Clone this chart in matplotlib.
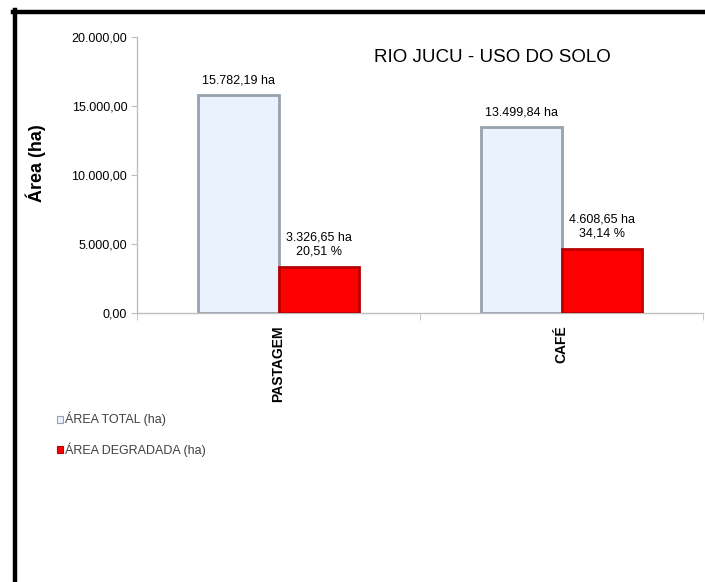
import matplotlib
matplotlib.use("Agg")
import matplotlib.pyplot as plt
from matplotlib.ticker import FuncFormatter, FixedLocator
from matplotlib.lines import Line2D
import numpy as np

categories = ["PASTAGEM", "CAFÉ"]
area_total = [15782.19, 13499.84]
area_degradada = [3326.65, 4608.65]
pct_degradada = [20.51, 34.14]
series_names = ["ÁREA TOTAL (ha)", "ÁREA DEGRADADA (ha)"]
y_ticks = [0, 5000, 10000, 15000, 20000]

plt.rcParams['font.family'] = ['Liberation Sans', 'DejaVu Sans']


def br(v, dec=2):
    s = f"{v:,.{dec}f}"
    return s.replace(",", "X").replace(".", ",").replace("X", ".")


fig = plt.figure(figsize=(7.05, 5.82), dpi=100)
ax = fig.add_axes([137/705, (582-313)/582, 566/705, 276/582])

x = np.arange(len(categories))
w = 0.285
b1 = ax.bar(x - w/2, area_total, w, color="#EAF3FD", edgecolor="#98A2AD",
            linewidth=2.0, label=series_names[0], zorder=3)
b2 = ax.bar(x + w/2, area_degradada, w, color="#FF0000", edgecolor="#B80000",
            linewidth=2.0, label=series_names[1], zorder=3)

for xi, v in zip(x, area_total):
    ax.annotate(f"{br(v)} ha", (xi - w/2, v), xytext=(0, 6), textcoords="offset points",
                ha="center", va="bottom", fontsize=9)
for xi, v, p in zip(x, area_degradada, pct_degradada):
    ax.annotate(f"{br(v)} ha\n{br(p)} %", (xi + w/2, v), xytext=(0, 7), textcoords="offset points",
                ha="center", va="bottom", fontsize=9, linespacing=1.2)

ax.set_xlim(-0.5, len(categories) - 0.5)
ax.set_ylim(0, 20000)
ax.yaxis.set_major_locator(FixedLocator(y_ticks))
ax.yaxis.set_major_formatter(FuncFormatter(lambda v, p: br(v)))
ax.tick_params(axis="y", length=4, color="#BFBFBF", labelsize=9, pad=3)

ax.set_xticks(x)
ax.set_xticklabels(categories, rotation=90, fontweight="bold", fontsize=10, va="top")
ax.tick_params(axis="x", length=0, pad=9)
ax.set_xticks(np.arange(len(categories) + 1) - 0.5, minor=True)
ax.tick_params(axis="x", which="minor", length=5, color="#BFBFBF")

for s in ["top", "right"]:
    ax.spines[s].set_visible(False)
for s in ["left", "bottom"]:
    ax.spines[s].set_color("#BFBFBF")
    ax.spines[s].set_linewidth(1.0)

fig.text(36/705, 1 - 163/582, "Área (ha)", rotation=90, ha="center", va="center",
         fontsize=13, fontweight="bold")
fig.text(492/705, 1 - 57/582, "RIO JUCU - USO DO SOLO", ha="center", va="center",
         fontsize=13.5)

leg = fig.legend(handles=[b1, b2], labels=series_names, loc="upper left",
                 bbox_to_anchor=(52/705, 1 - 407/582), frameon=False, fontsize=9,
                 handlelength=0.5, handleheight=0.5, handletextpad=0.15,
                 labelspacing=1.25, borderaxespad=0)
for t in leg.get_texts():
    t.set_color("#404040")
for h in leg.legend_handles:
    h.set_linewidth(0.8)

fig.add_artist(Line2D([13/705, 1.0], [1 - 11.5/582, 1 - 11.5/582], color="black", linewidth=3.2,
                      transform=fig.transFigure))
fig.add_artist(Line2D([15/705, 15/705], [1 - 10/582, 0], color="black", linewidth=3.2,
                      transform=fig.transFigure))

fig.savefig("out.png", dpi=100)
